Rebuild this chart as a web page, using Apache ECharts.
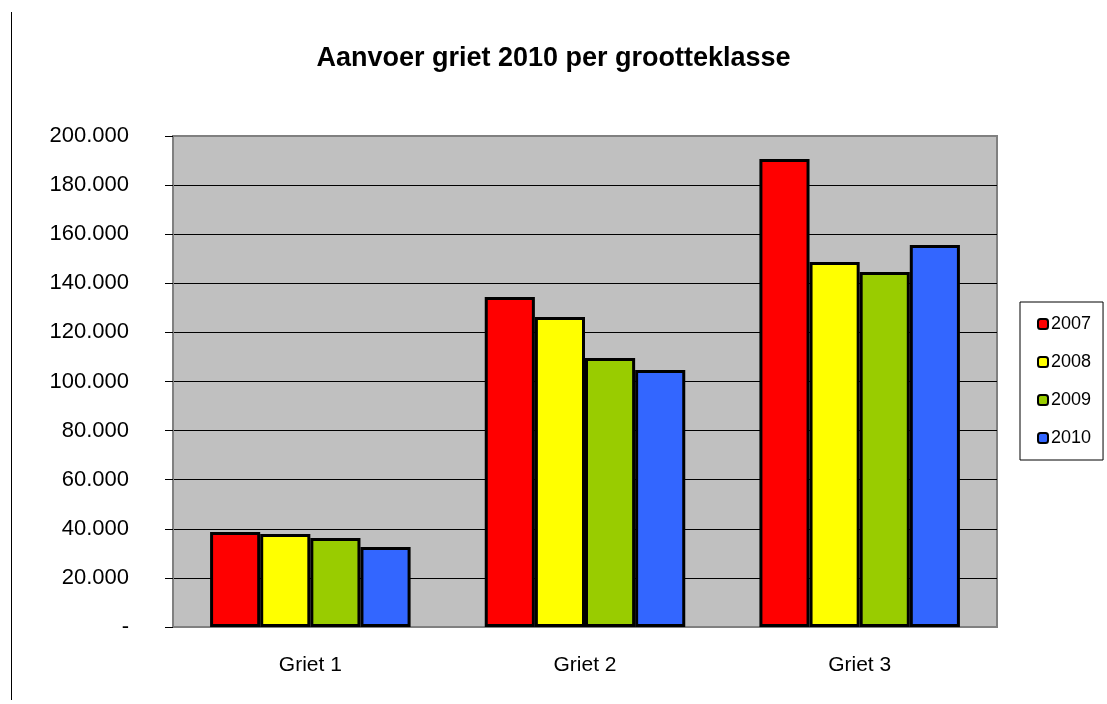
<!DOCTYPE html>
<html>
<head>
<meta charset="utf-8">
<script src="https://cdn.jsdelivr.net/npm/echarts@6/dist/echarts.min.js"></script>
<style>
    html, body { margin: 0; padding: 0; background: #fff; }
    #chart { width: 1107px; height: 704px; }
</style>
</head>
<body>
<div id="chart"></div>
<script>
// categories and values
const categories = ['Griet 1', 'Griet 2', 'Griet 3']
const years = ['2007', '2008', '2009', '2010']
const v2007 = [38700, 134400, 190600]
const v2008 = [37900, 126300, 148700]
const v2009 = [36300, 109600, 144600]
const v2010 = [32600, 104700, 155600]
const colors = ['#FF0000', '#FFFF00', '#99CC00', '#3366FF']

const chart = echarts.init(document.getElementById('chart'))
const font = 'Liberation Sans, Arial, sans-serif'

function fmt(val) {
    if (val === 0) return '-'
    return String(val).replace(/\B(?=(\d{3})+(?!\d))/g, '.')
}

const seriesData = [v2007, v2008, v2009, v2010]

// gridlines black, top one gray like the plot border
const gridColors = ['#000', '#000', '#000', '#000', '#000', '#000', '#000', '#000', '#000', '#000', '#808080']

chart.setOption({
    backgroundColor: '#fff',
    animation: false,
    textStyle: { fontFamily: font, color: '#000' },
    title: {
        text: 'Aanvoer griet 2010 per grootteklasse',
        left: 'center',
        top: 40,
        textStyle: { fontFamily: font, fontSize: 27, fontWeight: 'bold', color: '#000' }
    },
    legend: {
        orient: 'vertical',
        left: 1020,
        top: 302,
        data: years,
        padding: [13, 12, 13, 17],
        itemGap: 20,
        itemWidth: 10,
        itemHeight: 10,
        borderColor: '#000',
        borderWidth: 1,
        textStyle: { fontFamily: font, fontSize: 18, color: '#000', padding: [0, 0, 0, -2] }
    },
    grid: {
        left: 173,
        right: 110,
        top: 136,
        bottom: 77,
        show: true,
        backgroundColor: '#C0C0C0',
        borderColor: '#808080',
        borderWidth: 2
    },
    xAxis: {
        type: 'category',
        data: categories,
        axisLine: { lineStyle: { color: '#808080', width: 2 } },
        axisTick: { alignWithLabel: false, length: 6, lineStyle: { color: '#000' } },
        axisLabel: { margin: 28, fontSize: 21, color: '#000', fontFamily: font }
    },
    yAxis: {
        type: 'value',
        min: 0,
        max: 200000,
        interval: 20000,
        axisLine: { show: true, lineStyle: { color: '#808080', width: 2 } },
        axisTick: { show: true, length: 8, lineStyle: { color: '#000' } },
        axisLabel: { margin: 44, fontSize: 22, color: '#000', fontFamily: font, formatter: fmt },
        splitLine: { lineStyle: { color: gridColors, width: 1 } }
    },
    graphic: [
        {
            type: 'line',
            shape: { x1: 11.5, y1: 12, x2: 11.5, y2: 700 },
            style: { stroke: '#000', lineWidth: 1 }
        }
    ],
    series: years.map((y, i) => ({
        name: y,
        type: 'bar',
        data: seriesData[i],
        barGap: '0%',
        barCategoryGap: '27%',
        itemStyle: {
            color: colors[i],
            borderColor: '#000',
            borderWidth: 3
        }
    }))
})
</script>
</body>
</html>
